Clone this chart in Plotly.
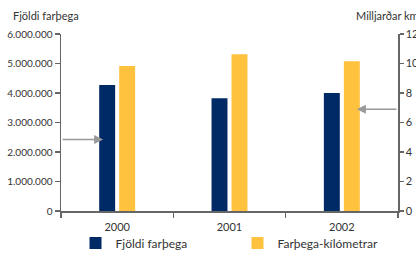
import plotly.graph_objects as go

years = ["2000", "2001", "2002"]
passengers = [4270000, 3820000, 4000000]
pass_km = [9.83, 10.62, 10.15]
left_ticks = [0, 1000000, 2000000, 3000000, 4000000, 5000000, 6000000]
right_ticks = [0, 2, 4, 6, 8, 10, 12]

NAVY = "#002a66"
YELLOW = "#ffc23e"
GRAY = "#666666"
TXT = "#333333"
FONT = "Lato"

W, H = 416, 253
L, R, T, B = 61, 18, 34, 42
PW, PH = W - L - R, H - T - B

fig = go.Figure()
fig.add_trace(go.Bar(x=years, y=passengers, name="Fjöldi farþega",
                     marker=dict(color=NAVY, line=dict(width=0)),
                     width=0.142, offset=-0.160, yaxis="y"))
fig.add_trace(go.Bar(x=years, y=pass_km, name="Farþega-kílómetrar",
                     marker=dict(color=YELLOW, line=dict(width=0)),
                     width=0.142, offset=0.018, yaxis="y2"))

fig.update_layout(
    width=W, height=H,
    margin=dict(l=L, r=R, t=T, b=B, pad=0, autoexpand=False),
    paper_bgcolor="white", plot_bgcolor="white",
    separators=",.",
    font=dict(family=FONT, size=11, color=TXT),
    barmode="overlay",
    showlegend=True,
    hovermode=False,
    legend=dict(orientation="h", x=(75.5 - L) / PW, y=-(243 - T - PH) / PH,
                xanchor="left", yanchor="middle",
                font=dict(size=12, color=TXT), entrywidth=117,
                itemwidth=30, bgcolor="rgba(0,0,0,0)", traceorder="normal"),
    xaxis=dict(type="category", range=[-0.5, 2.5], showline=True, linecolor=GRAY,
               linewidth=1.5, ticks="outside", tickson="boundaries", ticklen=5,
               tickcolor=GRAY, tickwidth=1.2, showgrid=False, automargin=False,
               ticklabelstandoff=5, tickfont=dict(size=11, color=TXT)),
    yaxis=dict(range=[0, 6000000], tickvals=left_ticks, tickformat=",d",
               showline=True, linecolor=GRAY, linewidth=1.5, ticks="outside",
               ticklen=5, tickcolor=GRAY, tickwidth=1.2, showgrid=False,
               zeroline=False, automargin=False, tickfont=dict(size=10, color=TXT)),
    yaxis2=dict(range=[0, 12], tickvals=right_ticks, overlaying="y", side="right",
                showline=True, linecolor=GRAY, linewidth=1.5, ticks="outside",
                ticklen=4, tickcolor=GRAY, tickwidth=1.2, showgrid=False,
                zeroline=False, automargin=False, tickfont=dict(size=11, color=TXT)),
)

fig.add_annotation(text="Fjöldi farþega", xref="paper", yref="paper",
                   x=(11 - L) / PW, y=1 + 19 / PH,
                   xanchor="left", yanchor="middle", showarrow=False,
                   font=dict(size=11, color=TXT))
fig.add_annotation(text="Milljarðar km", xref="paper", yref="paper",
                   x=(354 - L) / PW, y=1 + 19 / PH,
                   xanchor="left", yanchor="middle", showarrow=False,
                   font=dict(size=11, color=TXT))

# arrows
fig.add_annotation(x=-0.125, y=2420000, ax=-0.5, ay=2420000, xref="x", yref="y",
                   axref="x", ayref="y", text="", showarrow=True, arrowhead=2,
                   arrowsize=1.2, arrowwidth=1.5, arrowcolor="#999999", standoff=0)
fig.add_annotation(x=2.134, y=6.89, ax=2.5, ay=6.89, xref="x", yref="y2",
                   axref="x", ayref="y2", text="", showarrow=True, arrowhead=2,
                   arrowsize=1.2, arrowwidth=1.5, arrowcolor="#999999", standoff=0)

fig.write_html("out.html", config={"displayModeBar": False, "staticPlot": True},
               post_script="document.body.style.margin='0';document.body.style.overflow='hidden';")
